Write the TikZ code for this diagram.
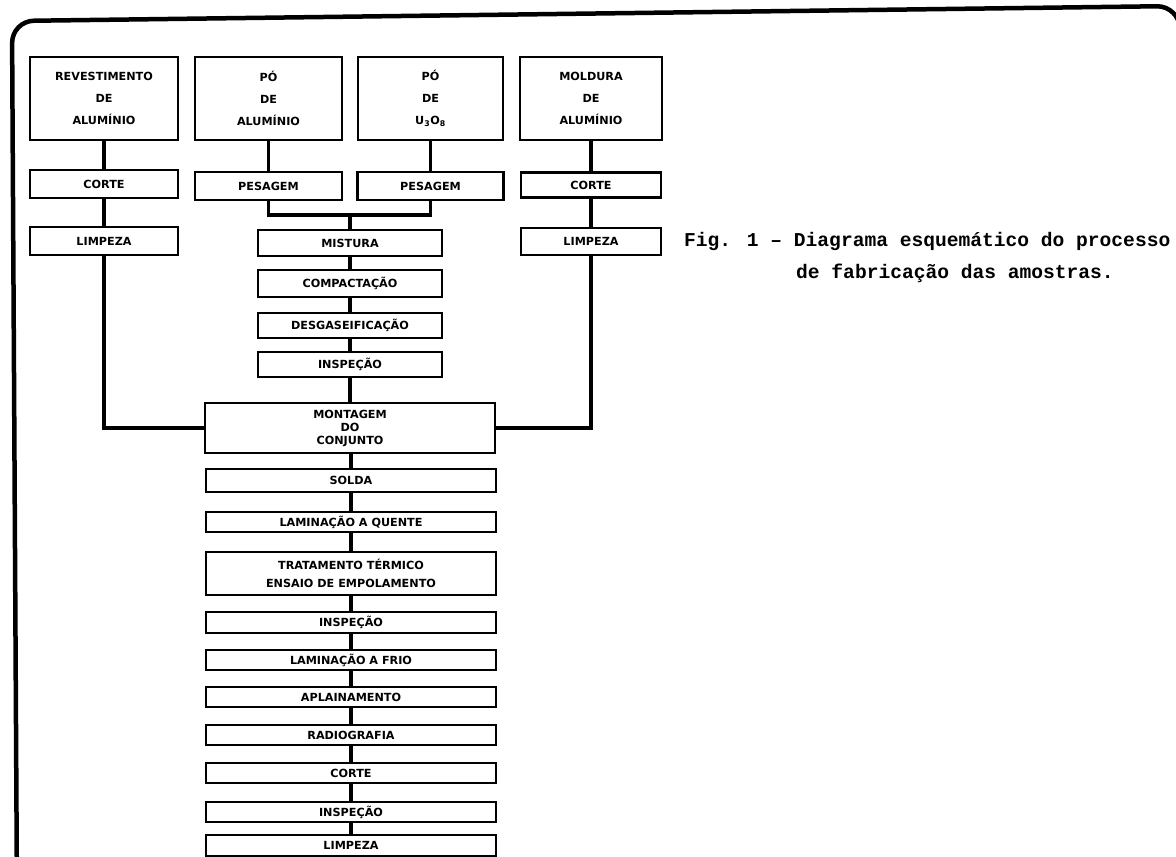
\documentclass[tikz,border=0pt]{standalone}
\usepackage{fontspec}
\newfontfamily\labfont{DejaVu Sans}
\newfontfamily\capfont{Liberation Mono}
\begin{document}
\begin{tikzpicture}[x=1pt,y=-1pt,
  box/.style={draw,line width=2.8pt,inner sep=0pt,align=center,
    font=\labfont\bfseries\fontsize{11.2}{13}\selectfont},
  topbox/.style={box,minimum height=83pt,
    font=\labfont\bfseries\fontsize{11.2}{22}\selectfont},
  colbox/.style={box,minimum width=290pt},
  midbox/.style={box,minimum width=184pt},
  conn/.style={line width=3.8pt},
  capt/.style={inner sep=0pt,anchor=west,font=\capfont\bfseries\fontsize{19.6}{24}\selectfont}]
\useasboundingbox (0,0) rectangle (1176,857);
\clip (0,0) rectangle (1176,857);
% frame
\draw[line width=4.5pt,rounded corners=22pt] (17,900) -- (12,21) -- (1179,6) -- (1184,140);
% top boxes
\node[topbox,minimum width=148pt] (b1) at (104,98.5) {REVESTIMENTO\\DE\\ALUMÍNIO};
\node[topbox,minimum width=147pt] (b2) at (268.5,98.5) {PÓ\\DE\\ALUMÍNIO};
\node[topbox,minimum width=145pt] (b3) at (430.5,98.5) {PÓ\\DE\\U\textsubscript{3}O\textsubscript{8}};
\node[topbox,minimum width=142pt] (b4) at (591,98.5) {MOLDURA\\DE\\ALUMÍNIO};
% second row
\node[box,minimum width=148pt,minimum height=28pt] (c1) at (104,184) {CORTE};
\node[box,minimum width=147pt,minimum height=28pt] (p1) at (268.5,186) {PESAGEM};
\node[box,minimum width=146pt,minimum height=28pt] (p2) at (430.5,186) {PESAGEM};
\node[box,minimum width=140pt,minimum height=25pt] (c4) at (591,185) {CORTE};
% third row
\node[box,minimum width=148pt,minimum height=28pt] (l1) at (104,241) {LIMPEZA};
\node[box,minimum width=140pt,minimum height=27pt] (l4) at (591,241.5) {LIMPEZA};
% middle column
\node[midbox,minimum height=26pt] (mi) at (350,243) {MISTURA};
\node[midbox,minimum height=27pt] (co) at (350,283.5) {COMPACTAÇÃO};
\node[midbox,minimum height=25pt] (de) at (350,325.5) {DESGASEIFICAÇÃO};
\node[midbox,minimum height=25pt] (i1) at (350,364.5) {INSPEÇÃO};
% main column
\node[colbox,minimum height=50pt] (mo) at (350,428) {MONTAGEM\\DO\\CONJUNTO};
\node[colbox,minimum height=23pt] (so) at (351,480.5) {SOLDA};
\node[colbox,minimum height=20pt] (lq) at (351,522) {LAMINAÇÃO A QUENTE};
\node[colbox,minimum height=43pt,font=\labfont\bfseries\fontsize{11.2}{18}\selectfont] (tt) at (351,573.5) {TRATAMENTO TÉRMICO\\ENSAIO DE EMPOLAMENTO};
\node[colbox,minimum height=21pt] (i2) at (351,622.5) {INSPEÇÃO};
\node[colbox,minimum height=20pt] (lf) at (351,660) {LAMINAÇÃO A FRIO};
\node[colbox,minimum height=20pt] (ap) at (351,697) {APLAINAMENTO};
\node[colbox,minimum height=20pt] (ra) at (351,735) {RADIOGRAFIA};
\node[colbox,minimum height=20pt] (ct) at (351,773) {CORTE};
\node[colbox,minimum height=20pt] (i3) at (351,812) {INSPEÇÃO};
\node[colbox,minimum height=21pt] (li) at (351,845.5) {LIMPEZA};
% caption
\node[capt] (cap1) at (684,241) {Fig. 1 – Diagrama esquemático do processo};
\node[capt] (cap2) at (796,273) {de fabricação das amostras.};
% connectors
\coordinate (mg) at (350,215);
\draw[conn] (b1) -- (c1);
\draw[conn] (c1) -- (l1);
\draw[conn] (l1.south) |- (mo.west);
\draw[conn] (b2) -- (p1);
\draw[conn] (b3) -- (p2);
\draw[conn] (p1.south) |- (mg) -| (p2.south);
\draw[conn] (mg) -- (mi.north);
\draw[conn] (mi) -- (co);
\draw[conn] (co) -- (de);
\draw[conn] (de) -- (i1);
\draw[conn] (i1) -- (mo);
\draw[conn] (b4) -- (c4);
\draw[conn] (c4) -- (l4);
\draw[conn] (l4.south) |- (mo.east);
\draw[conn] (mo.south -| so) -- (so);
\draw[conn] (so) -- (lq);
\draw[conn] (lq) -- (tt);
\draw[conn] (tt) -- (i2);
\draw[conn] (i2) -- (lf);
\draw[conn] (lf) -- (ap);
\draw[conn] (ap) -- (ra);
\draw[conn] (ra) -- (ct);
\draw[conn] (ct) -- (i3);
\draw[conn] (i3) -- (li);
\end{tikzpicture}
\end{document}
